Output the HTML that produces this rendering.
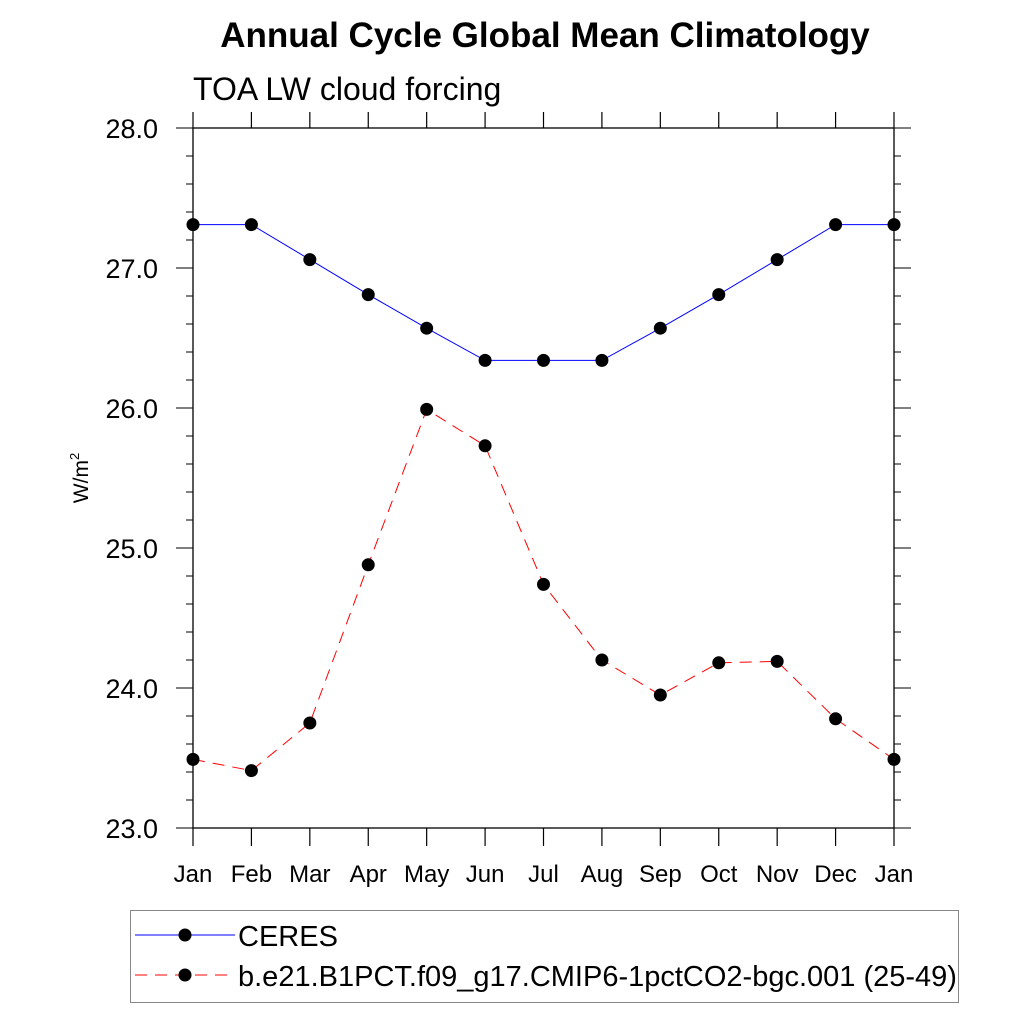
<!DOCTYPE html>
<html><head><meta charset="utf-8"><style>body{margin:0;background:#fff}svg{display:block;font-family:"Liberation Sans",sans-serif}</style></head><body>
<svg id="chart" width="1024" height="1024" xmlns="http://www.w3.org/2000/svg">
<text x="545" y="47" text-anchor="middle" font-size="35" font-weight="bold">Annual Cycle Global Mean Climatology</text>
<text x="193" y="100" font-size="32">TOA LW cloud forcing</text>
<text transform="translate(88,478) rotate(-90)" text-anchor="middle" font-size="21">W/m<tspan dy="-9" font-size="13">2</tspan></text>
<g id="axes"></g><g id="series"></g>
<rect x="130.5" y="910.5" width="828" height="92" fill="none" stroke="#888" stroke-width="1"/>
<g>
<line x1="135" y1="935" x2="235" y2="935" stroke="#0000ff" stroke-width="1"/><circle cx="185" cy="935" r="6.5" fill="#000"/>
<text x="238" y="946" font-size="29">CERES</text></g>
<g>
<line x1="135" y1="975" x2="235" y2="975" stroke="#ff0000" stroke-width="1" stroke-dasharray="12,8"/><circle cx="185" cy="975" r="6.5" fill="#000"/>
<text x="238" y="986" font-size="29">b.e21.B1PCT.f09_g17.CMIP6-1pctCO2-bgc.001 (25-49)</text></g>
</svg>
<script>
const months=["Jan","Feb","Mar","Apr","May","Jun","Jul","Aug","Sep","Oct","Nov","Dec","Jan"];
const yTicks=["23.0","24.0","25.0","26.0","27.0","28.0"];
const ceres=[27.31,27.31,27.06,26.81,26.57,26.34,26.34,26.34,26.57,26.81,27.06,27.31,27.31];
const model=[23.49,23.41,23.75,24.88,25.99,25.73,24.74,24.20,23.95,24.18,24.19,23.78,23.49];
const L=193,R=894,T=128,B=828,ymin=23,ymax=28;
const X=i=>L+(R-L)*i/(months.length-1);
const Y=v=>B-(v-ymin)/(ymax-ymin)*(B-T);
const NS="http://www.w3.org/2000/svg";
function mk(p,tag,a){const e=document.createElementNS(NS,tag);for(const k in a)e.setAttribute(k,a[k]);p.appendChild(e);return e;}
const ax=document.getElementById('axes');
let fr=mk(ax,'rect',{x:L,y:T,width:R-L,height:B-T,fill:'none',stroke:'#000','stroke-width':1.3});


months.forEach((m,i)=>{const x=X(i);
mk(ax,'line',{x1:x,y1:B,x2:x,y2:B+18,stroke:'#000','stroke-width':1.2});
mk(ax,'line',{x1:x,y1:T,x2:x,y2:T-16,stroke:'#000','stroke-width':1.2});
const t=mk(ax,'text',{x:x,y:882,'text-anchor':'middle','font-size':24});t.textContent=m;

});
for(let k=0;k<=25;k++){const v=ymin+k*0.2,y=Y(v),maj=k%5==0;const len=maj?17:7;
mk(ax,'line',{x1:L,y1:y,x2:L-len,y2:y,stroke:'#000','stroke-width':1});
mk(ax,'line',{x1:R,y1:y,x2:R+len,y2:y,stroke:'#000','stroke-width':1});}
yTicks.forEach(s=>{const v=parseFloat(s);const t=mk(ax,'text',{x:158,y:Y(v)+10,'text-anchor':'end','font-size':27});t.textContent=s;

});
const sg=document.getElementById('series');
function draw(d,col,dash,name){const g=mk(sg,'g',{});


mk(g,'polyline',{points:d.map((v,i)=>X(i)+','+Y(v)).join(' '),fill:'none',stroke:col,'stroke-width':1,'stroke-dasharray':dash});
d.forEach((v,i)=>{const c=mk(g,'circle',{cx:X(i),cy:Y(v),r:6.5,fill:'#000'});

});}
draw(ceres,'#0000ff','none','ceres-series');
draw(model,'#ff0000','12,8','model-series');
</script>
</body></html>
